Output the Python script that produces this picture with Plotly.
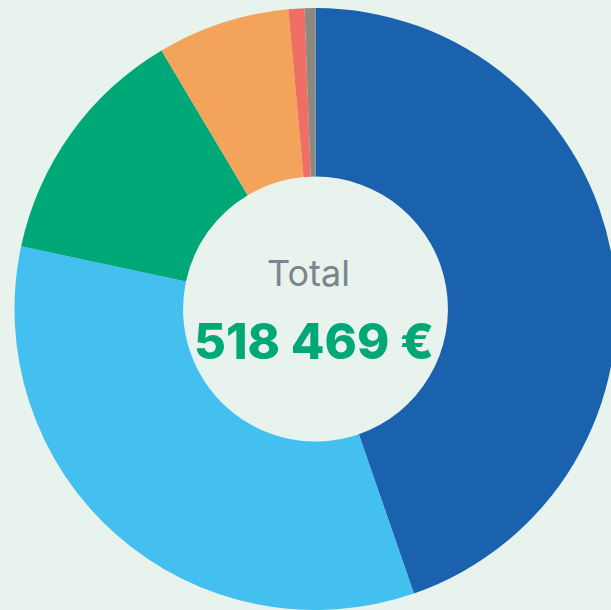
import plotly.graph_objects as go

labels = ["Actions", "Obligations", "Immobilier", "Liquidités", "Crypto", "Autres"]
values = [231760, 174410, 67970, 36860, 4460, 3009]
colors = ["#1a62ad", "#43bff0", "#00a878", "#f4a35a", "#ef6f67", "#8a8a80"]
total_label = "Total"
total_value = "518 469 €"

BG = "#e8f3ee"

fig = go.Figure(go.Pie(
    labels=labels,
    values=values,
    hole=0.44,
    sort=False,
    direction="clockwise",
    rotation=0,
    textinfo="none",
    marker=dict(colors=colors, line=dict(width=0)),
    showlegend=False,
    domain=dict(x=[0, 1], y=[0, 1]),
))

fig.update_layout(
    width=617,
    height=610,
    margin=dict(l=14, r=0, t=8, b=0),
    paper_bgcolor=BG,
    plot_bgcolor=BG,
    annotations=[
        dict(text=total_label, x=0.4876, y=0.5598, xref="paper", yref="paper",
             showarrow=False, xanchor="center", yanchor="middle",
             font=dict(family="Inter", size=36, color="#7b858f")),
        dict(text=total_value, x=0.4975, y=0.4468, xref="paper", yref="paper",
             showarrow=False, xanchor="center", yanchor="middle",
             font=dict(family="Inter", size=49, color="#00a878", weight=800)),
    ],
)

fig.write_html(
    "out.html",
    config={"displayModeBar": False},
    post_script="document.body.style.margin='0';document.body.style.overflow='hidden';"
                "document.body.style.background='" + BG + "';",
)
